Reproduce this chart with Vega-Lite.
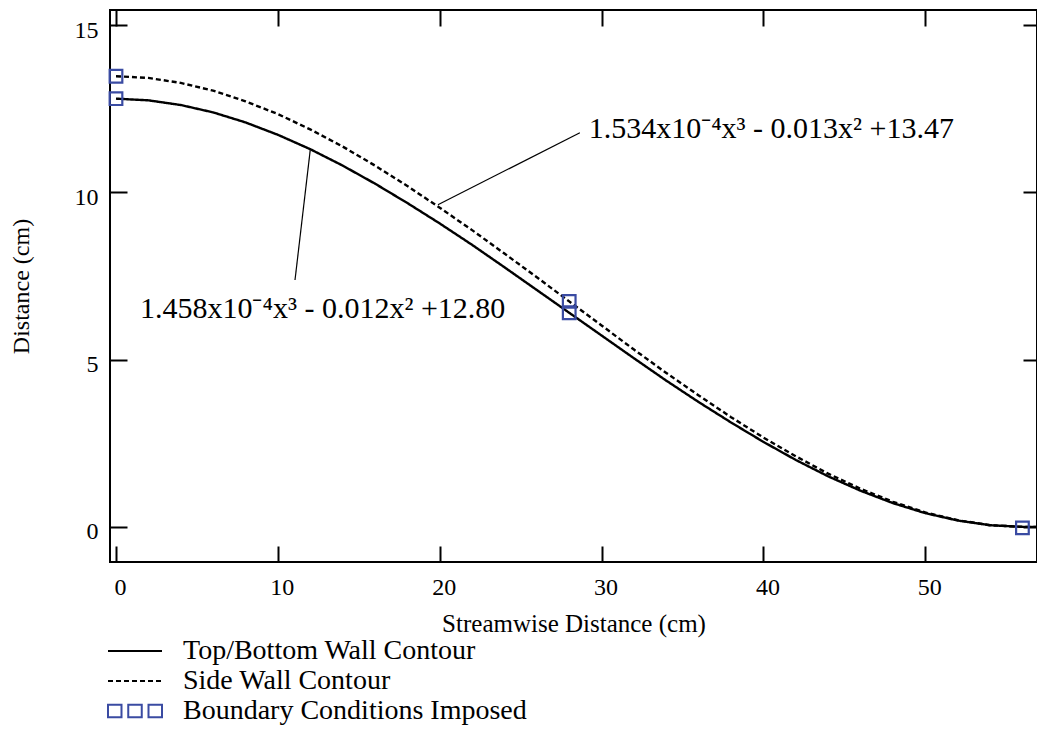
{
  "$schema": "https://vega.github.io/schema/vega-lite/v6.json",
  "width": 927,
  "height": 552,
  "autosize": {"type": "none"},
  "padding": {"left": 110, "top": 10, "right": 0, "bottom": 167},
  "background": "white",
  "config": {
    "view": {"stroke": "black", "strokeWidth": 2},
    "font": "Liberation Serif",
    "axis": {
      "domain": false,
      "grid": false,
      "tickColor": "black",
      "tickWidth": 2,
      "labelFont": "Liberation Serif",
      "labelFontSize": 24,
      "labelColor": "black",
      "titleFont": "Liberation Serif",
      "titleFontWeight": "normal",
      "titleColor": "black"
    }
  },
  "datasets": {
    "curves": [
      {"x": 0, "y": 12.8, "series": "Top/Bottom Wall Contour"},
      {"x": 2, "y": 12.75, "series": "Top/Bottom Wall Contour"},
      {"x": 4, "y": 12.61, "series": "Top/Bottom Wall Contour"},
      {"x": 6, "y": 12.39, "series": "Top/Bottom Wall Contour"},
      {"x": 8, "y": 12.09, "series": "Top/Bottom Wall Contour"},
      {"x": 10, "y": 11.72, "series": "Top/Bottom Wall Contour"},
      {"x": 12, "y": 11.29, "series": "Top/Bottom Wall Contour"},
      {"x": 14, "y": 10.8, "series": "Top/Bottom Wall Contour"},
      {"x": 16, "y": 10.26, "series": "Top/Bottom Wall Contour"},
      {"x": 18, "y": 9.68, "series": "Top/Bottom Wall Contour"},
      {"x": 20, "y": 9.07, "series": "Top/Bottom Wall Contour"},
      {"x": 22, "y": 8.43, "series": "Top/Bottom Wall Contour"},
      {"x": 24, "y": 7.76, "series": "Top/Bottom Wall Contour"},
      {"x": 26, "y": 7.08, "series": "Top/Bottom Wall Contour"},
      {"x": 28, "y": 6.4, "series": "Top/Bottom Wall Contour"},
      {"x": 30, "y": 5.72, "series": "Top/Bottom Wall Contour"},
      {"x": 32, "y": 5.04, "series": "Top/Bottom Wall Contour"},
      {"x": 34, "y": 4.37, "series": "Top/Bottom Wall Contour"},
      {"x": 36, "y": 3.73, "series": "Top/Bottom Wall Contour"},
      {"x": 38, "y": 3.12, "series": "Top/Bottom Wall Contour"},
      {"x": 40, "y": 2.54, "series": "Top/Bottom Wall Contour"},
      {"x": 42, "y": 2.0, "series": "Top/Bottom Wall Contour"},
      {"x": 44, "y": 1.51, "series": "Top/Bottom Wall Contour"},
      {"x": 46, "y": 1.08, "series": "Top/Bottom Wall Contour"},
      {"x": 48, "y": 0.71, "series": "Top/Bottom Wall Contour"},
      {"x": 50, "y": 0.41, "series": "Top/Bottom Wall Contour"},
      {"x": 52, "y": 0.19, "series": "Top/Bottom Wall Contour"},
      {"x": 54, "y": 0.05, "series": "Top/Bottom Wall Contour"},
      {"x": 56, "y": 0.0, "series": "Top/Bottom Wall Contour"},
      {"x": 56.9, "y": 0.0, "series": "Top/Bottom Wall Contour"},
      {"x": 0, "y": 13.47, "series": "Side Wall Contour"},
      {"x": 2, "y": 13.42, "series": "Side Wall Contour"},
      {"x": 4, "y": 13.27, "series": "Side Wall Contour"},
      {"x": 6, "y": 13.04, "series": "Side Wall Contour"},
      {"x": 8, "y": 12.72, "series": "Side Wall Contour"},
      {"x": 10, "y": 12.34, "series": "Side Wall Contour"},
      {"x": 12, "y": 11.88, "series": "Side Wall Contour"},
      {"x": 14, "y": 11.37, "series": "Side Wall Contour"},
      {"x": 16, "y": 10.8, "series": "Side Wall Contour"},
      {"x": 18, "y": 10.19, "series": "Side Wall Contour"},
      {"x": 20, "y": 9.54, "series": "Side Wall Contour"},
      {"x": 22, "y": 8.87, "series": "Side Wall Contour"},
      {"x": 24, "y": 8.17, "series": "Side Wall Contour"},
      {"x": 26, "y": 7.46, "series": "Side Wall Contour"},
      {"x": 28, "y": 6.74, "series": "Side Wall Contour"},
      {"x": 30, "y": 6.02, "series": "Side Wall Contour"},
      {"x": 32, "y": 5.3, "series": "Side Wall Contour"},
      {"x": 34, "y": 4.6, "series": "Side Wall Contour"},
      {"x": 36, "y": 3.93, "series": "Side Wall Contour"},
      {"x": 38, "y": 3.28, "series": "Side Wall Contour"},
      {"x": 40, "y": 2.67, "series": "Side Wall Contour"},
      {"x": 42, "y": 2.11, "series": "Side Wall Contour"},
      {"x": 44, "y": 1.59, "series": "Side Wall Contour"},
      {"x": 46, "y": 1.14, "series": "Side Wall Contour"},
      {"x": 48, "y": 0.75, "series": "Side Wall Contour"},
      {"x": 50, "y": 0.43, "series": "Side Wall Contour"},
      {"x": 52, "y": 0.2, "series": "Side Wall Contour"},
      {"x": 54, "y": 0.05, "series": "Side Wall Contour"},
      {"x": 56, "y": 0.0, "series": "Side Wall Contour"},
      {"x": 56.9, "y": 0.0, "series": "Side Wall Contour"}
    ],
    "boundary": [
      {"x": 0, "y": 12.8, "series": "Boundary Conditions Imposed"},
      {"x": 0, "y": 13.47, "series": "Boundary Conditions Imposed"},
      {"x": 28, "y": 6.4, "series": "Boundary Conditions Imposed"},
      {"x": 28, "y": 6.74, "series": "Boundary Conditions Imposed"},
      {"x": 56, "y": -0.03, "series": "Boundary Conditions Imposed"}
    ],
    "leaders": [
      {"x": 19.89, "y": 9.63, "x2": 28.66, "y2": 11.78},
      {"x": 12.0, "y": 11.26, "x2": 11.06, "y2": 7.38}
    ],
    "notes": [
      {"x": 29.2, "y": 11.63, "text": "1.534x10⁻⁴x³ - 0.013x² +13.47"},
      {"x": 1.48, "y": 6.25, "text": "1.458x10⁻⁴x³ - 0.012x² +12.80"}
    ]
  },
  "resolve": {"axis": {"x": "independent", "y": "independent"}},
  "layer": [
    {
      "data": {"values": []},
      "mark": {"type": "point", "filled": false, "opacity": 1},
      "encoding": {
        "color": {
          "field": "series", "type": "nominal",
          "scale": {
            "domain": ["Top/Bottom Wall Contour", "Side Wall Contour", "Boundary Conditions Imposed"],
            "range": ["black", "black", "#3a4ba2"]
          },
          "legend": {
            "orient": "none", "legendX": -2, "legendY": 627,
            "title": null, "padding": 0,
            "labelFont": "Liberation Serif", "labelFontSize": 28, "labelColor": "black", "labelLimit": 1000,
            "symbolSize": 324, "symbolStrokeWidth": 2, "symbolOpacity": 1,
            "symbolOffset": 13, "labelOffset": 34, "rowPadding": 2
          }
        },
        "shape": {
          "field": "series", "type": "nominal",
          "scale": {
            "domain": ["Top/Bottom Wall Contour", "Side Wall Contour", "Boundary Conditions Imposed"],
            "range": ["M-3,0H3", "M-3,0H3", "M-3,-0.7H-1.5V0.7H-3Z M-0.75,-0.7H0.75V0.7H-0.75Z M1.5,-0.7H3V0.7H1.5Z"]
          }
        },
        "strokeDash": {
          "field": "series", "type": "nominal",
          "scale": {
            "domain": ["Top/Bottom Wall Contour", "Side Wall Contour", "Boundary Conditions Imposed"],
            "range": [[1, 0], [5, 3], [1, 0]]
          }
        }
      }
    },
    {
      "data": {"name": "curves"},
      "mark": {"type": "line", "strokeWidth": 2.4, "clip": true},
      "encoding": {
        "x": {
          "field": "x", "type": "quantitative",
          "scale": {"domain": [-0.37, 56.9], "nice": false, "zero": false},
          "axis": {
            "orient": "bottom", "values": [0, 10, 20, 30, 40, 50],
            "tickSize": -16, "labelPadding": 29, "labelOffset": 4,
            "title": "Streamwise Distance (cm)", "titleFontSize": 25, "titlePadding": 12
          }
        },
        "y": {
          "field": "y", "type": "quantitative",
          "scale": {"domain": [-1.05, 15.45], "nice": false, "zero": false},
          "axis": {
            "orient": "left", "values": [0, 5, 10, 15],
            "tickSize": -17, "labelPadding": 29, "labelOffset": 5,
            "title": "Distance (cm)", "titleFontSize": 24, "titlePadding": 41
          }
        },
        "color": {"field": "series", "type": "nominal"},
        "strokeDash": {"field": "series", "type": "nominal"}
      }
    },
    {
      "data": {"name": "boundary"},
      "mark": {"type": "point", "shape": "square", "filled": false, "size": 160, "strokeWidth": 2.2, "opacity": 1},
      "encoding": {
        "x": {"field": "x", "type": "quantitative", "axis": null},
        "y": {"field": "y", "type": "quantitative", "axis": null},
        "color": {"field": "series", "type": "nominal"}
      }
    },
    {
      "data": {"name": "leaders"},
      "mark": {"type": "rule", "color": "black", "strokeWidth": 1.2},
      "encoding": {
        "x": {
          "field": "x", "type": "quantitative",
          "axis": {"orient": "top", "values": [0, 10, 20, 30, 40, 50], "tickSize": -16, "labels": false, "title": null}
        },
        "y": {
          "field": "y", "type": "quantitative",
          "axis": {"orient": "right", "values": [0, 5, 10, 15], "tickSize": -14, "labels": false, "title": null}
        },
        "x2": {"field": "x2"},
        "y2": {"field": "y2"}
      }
    },
    {
      "data": {"name": "notes"},
      "mark": {"type": "text", "align": "left", "baseline": "alphabetic", "font": "Liberation Serif", "fontSize": 30, "color": "black"},
      "encoding": {
        "x": {"field": "x", "type": "quantitative", "axis": null},
        "y": {"field": "y", "type": "quantitative", "axis": null},
        "text": {"field": "text"}
      }
    }
  ]
}
